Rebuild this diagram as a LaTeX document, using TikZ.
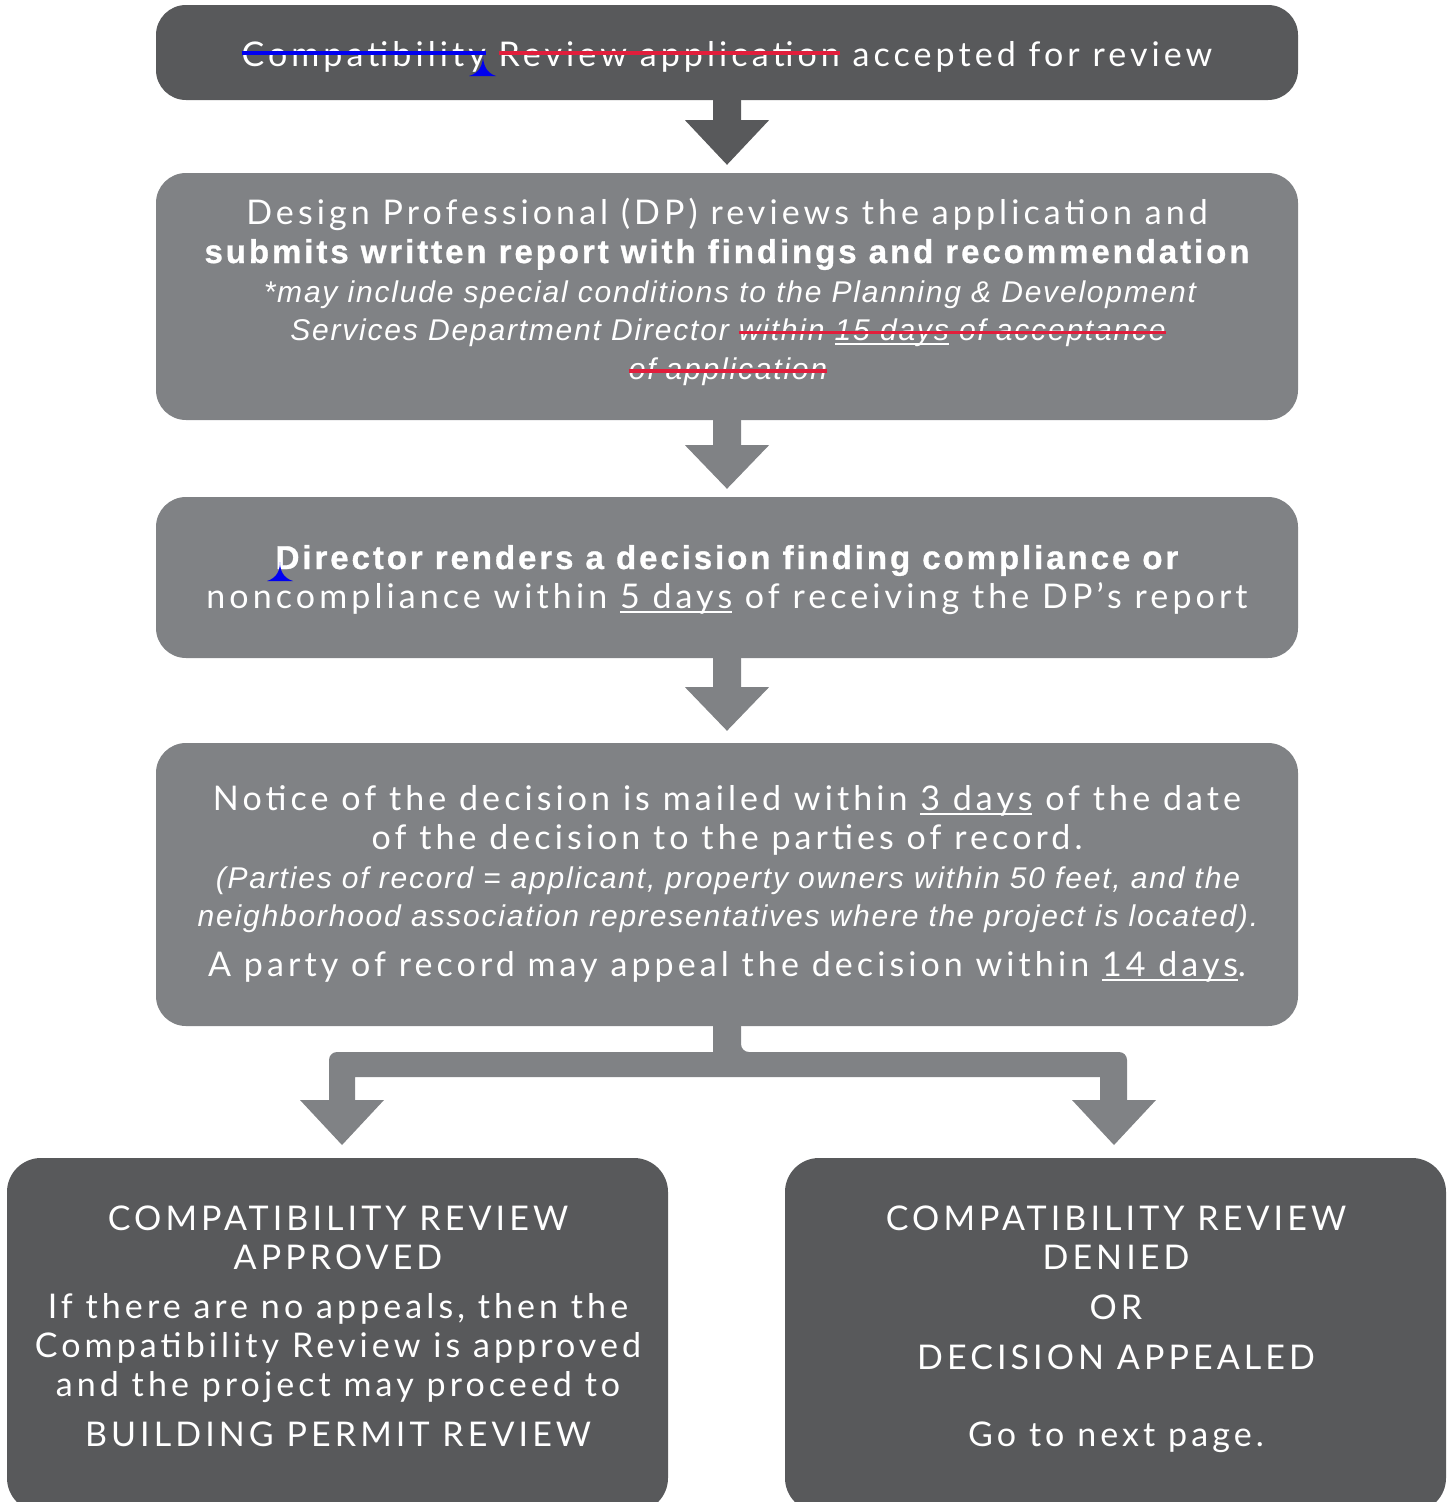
\documentclass[tikz,border=0pt]{standalone}
\usepackage{fontspec}
\setmainfont{Lato}
\newfontfamily\regf{Lato}[LetterSpace=12]
\newfontfamily\arbf{Liberation Sans}[UprightFont=* Bold, LetterSpace=8.9, FakeBold=0.9]
\newfontfamily\arif{Liberation Sans}[UprightFont=* Italic, LetterSpace=6]
\usetikzlibrary{calc}
\definecolor{cdark}{RGB}{88,89,91}
\definecolor{clight}{RGB}{128,130,133}
\definecolor{cred}{RGB}{225,30,60}
\definecolor{cblue}{RGB}{0,0,240}
\newcommand\mystrike[3]{\setbox0=\hbox{#3}\rlap{#3}{\color{#2}\rule[#1]{\wd0}{3.2pt}}}
\newcommand\myul[1]{\setbox0=\hbox{#1}\rlap{#1}\rule[-5pt]{\wd0}{1.6pt}}
\tikzset{
  boxd/.style={fill=cdark, rounded corners=30pt, inner sep=0pt, minimum width=1142pt},
  boxl/.style={fill=clight, rounded corners=30pt, inner sep=0pt, minimum width=1142pt},
  boxb/.style={fill=cdark, rounded corners=34pt, inner sep=0pt, minimum width=661pt, minimum height=354pt},
  rl/.style={text=white, inner sep=0pt, anchor=base, font=\regf\fontsize{34}{38}\selectfont},
  bl/.style={text=white, inner sep=0pt, anchor=base, font=\arbf\fontsize{33}{38}\selectfont},
  il/.style={text=white, inner sep=0pt, anchor=base, font=\arif\fontsize{30}{38}\selectfont},
}
\begin{document}
\begin{tikzpicture}[x=1pt,y=-1pt]
\useasboundingbox (0,0) rectangle (1452,1502);
\begin{scope}
\clip (0,0) rectangle (1452,1502);
% boxes
\node[boxd, minimum height=95pt] (b1) at (727,52.5) {};
\node[boxl, minimum height=247pt] (b2) at (727,296.5) {};
\node[boxl, minimum height=161pt] (b3) at (727,577.5) {};
\node[boxl, minimum height=283pt] (b4) at (727,884.5) {};
\node[boxb] (b5) at (337.5,1335) {};
\node[boxb] (b6) at (1115.5,1335) {};
\end{scope}
% arrows
\fill[cdark] ($(b1.south)+(-14,0)$) -- ++(0,20) -- ++(-28,0) -- ($(b2.north)+(0,-8)$) -- ($(b1.south)+(42,20)$) -- ++(-28,0) -- ($(b1.south)+(14,0)$) -- cycle;
\fill[clight] ($(b2.south)+(-14,0)$) -- ++(0,25) -- ++(-28,0) -- ($(b3.north)+(0,-8)$) -- ($(b2.south)+(42,25)$) -- ++(-28,0) -- ($(b2.south)+(14,0)$) -- cycle;
\fill[clight] ($(b3.south)+(-14,0)$) -- ++(0,29) -- ++(-28,0) -- ($(b4.north)+(0,-12)$) -- ($(b3.south)+(42,29)$) -- ++(-28,0) -- ($(b3.south)+(14,0)$) -- cycle;
% branch
\coordinate (tl) at (342,1145);
\coordinate (tr) at (1114,1145);
\fill[clight] ($(b4.south)+(-14,0)$) -- ++(0,26) -- (337,1052) [rounded corners=8pt] -- (329,1052) -- (329,1100) [sharp corners] -- (329,1100) -- (300,1100) -- (tl) -- (384,1100) -- (355,1100) -- (355,1077) -- (1100,1077) -- (1100,1100) -- (1072,1100) -- (tr) -- (1156,1100) -- (1127,1100) [rounded corners=8pt] -- (1127,1052) -- (741,1052) [sharp corners] -- (741,1052) -- ($(b4.south)+(14,0)$) -- cycle;
% box 1 text
\node[rl] (t1) at (727,66) {\mystrike{11.5pt}{cblue}{Compatibility} \mystrike{11.5pt}{cred}{Review application} accepted for review};
\fill[cblue] (469,76) .. controls (480,73) and (483,64) .. (483,55) .. controls (483,64) and (486,73) .. (496,76) -- cycle;
% box 2 text
\node[rl] (t21) at (727,224) {Design Professional (DP) reviews the application and};
\node[bl] (t22) at (727,263) {submits written report with findings and recommendation};
\node[il] (t23) at (730,302) {*may include special conditions to the Planning \& Development};
\node[il] (t24) at (728,340) {Services Department Director \mystrike{6pt}{cred}{within \myul{15 days} of acceptance}};
\node[il] (t25) at (728,379) {\mystrike{6.5pt}{cred}{of application}};
% box 3 text
\node[bl] (t31) at (727,569) {Director renders a decision finding compliance or};
\node[rl] (t32) at (727,608) {noncompliance within \myul{5 days} of receiving the DP’s report};
\fill[cblue] (267,581) .. controls (277,578) and (280,570) .. (280,562) .. controls (280,570) and (283,578) .. (293,581) -- cycle;
% box 4 text
\node[rl] (t41) at (727,810) {Notice of the decision is mailed within \myul{3 days} of the date};
\node[rl] (t42) at (727,849) {of the decision to the parties of record.};
\node[il] (t43) at (728,888) {(Parties of record = applicant, property owners within 50 feet, and the};
\node[il] (t44) at (728,926) {neighborhood association representatives where the project is located).};
\node[rl] (t45) at (727,976) {A party of record may appeal the decision within \myul{14 days}.};
% bottom left
\node[rl] (t51) at (338,1230) {COMPATIBILITY REVIEW};
\node[rl] (t52) at (338,1269) {APPROVED};
\node[rl] (t53) at (338,1318) {If there are no appeals, then the};
\node[rl] (t54) at (338,1357) {Compatibility Review is approved};
\node[rl] (t55) at (338,1396) {and the project may proceed to};
\node[rl] (t56) at (338,1446) {BUILDING PERMIT REVIEW};
% bottom right
\node[rl] (t61) at (1116,1230) {COMPATIBILITY REVIEW};
\node[rl] (t62) at (1116,1269) {DENIED};
\node[rl] (t63) at (1116,1319) {OR};
\node[rl] (t64) at (1116,1369) {DECISION APPEALED};
\node[rl] (t65) at (1116,1446) {Go to next page.};
\end{tikzpicture}
\end{document}
